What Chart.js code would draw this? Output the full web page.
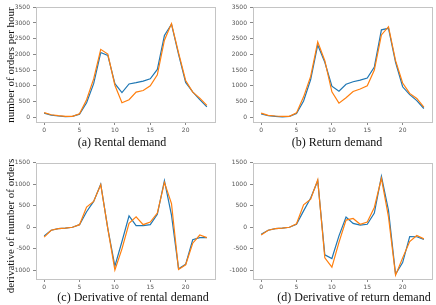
<!DOCTYPE html>
<html>
<head>
<meta charset="utf-8">
<script src="https://cdn.jsdelivr.net/npm/chart.js"></script>
<style>
  body { margin: 0; background: #fff; width: 436px; height: 305px; position: relative; overflow: hidden; }
  .box { position: absolute; }
  .cap { position: absolute; font-family: "Liberation Serif", serif; font-size: 12px; color: #111; white-space: nowrap; transform: translate(-50%, -50%); }
  .ylab { position: absolute; font-family: "Liberation Serif", serif; font-size: 11px; color: #111; white-space: nowrap; transform: translate(-50%, -50%) rotate(-90deg); }
</style>
</head>
<body>

<div class="box" style="left:14px;top:0;width:204px;height:135px"><canvas id="ca"></canvas></div>
<div class="box" style="left:229px;top:0;width:206px;height:135px"><canvas id="cb"></canvas></div>
<div class="box" style="left:14px;top:156px;width:204px;height:136px"><canvas id="cc"></canvas></div>
<div class="box" style="left:229px;top:156px;width:206px;height:136px"><canvas id="cd"></canvas></div>

<div class="ylab" style="left:10px;top:65px">number of orders per hour</div>
<div class="ylab" style="left:10px;top:226px">derivative of number of orders</div>

<div class="cap" style="left:122px;top:142px">(a) Rental demand</div>
<div class="cap" style="left:337px;top:142px">(b) Return demand</div>
<div class="cap" style="left:133px;top:297px">(c) Derivative of rental demand</div>
<div class="cap" style="left:354px;top:297px">(d) Derivative of return demand</div>

<script>
// hours of the day
const hours = [0,1,2,3,4,5,6,7,8,9,10,11,12,13,14,15,16,17,18,19,20,21,22,23];

// tick labels
const xTicks = [0,5,10,15,20];
const demandTicks = [0,500,1000,1500,2000,2500,3000,3500];
const derivTicks = [-1000,-500,0,500,1000,1500];

// (a) rental demand
const rentalBlue   = [130,70,40,20,30,100,460,1070,2060,1970,1070,785,1060,1100,1150,1225,1520,2600,2960,2000,1110,810,560,330];
const rentalOrange = [150,80,50,30,30,110,560,1220,2160,2010,1020,460,560,800,850,1000,1350,2450,2980,2050,1170,800,610,380];

// (b) return demand
const returnBlue   = [110,50,30,10,30,120,520,1200,2300,1750,990,830,1050,1130,1180,1250,1600,2780,2830,1750,970,720,530,280];
const returnOrange = [130,60,40,30,30,140,650,1300,2400,1800,810,450,620,820,900,1000,1500,2620,2880,1800,1090,760,600,320];

// (c) derivative of rental demand
const dRentalBlue   = [-200,-70,-30,-20,0,60,360,600,1000,-30,-900,-330,265,40,40,60,300,1080,280,-960,-860,-290,-240,-240];
const dRentalOrange = [-230,-70,-30,-20,0,60,470,600,990,-30,-990,-500,90,240,60,120,330,1040,550,-980,-870,-370,-180,-240];

// (d) derivative of return demand
const dReturnBlue   = [-160,-70,-30,-20,0,70,380,680,1080,-640,-725,-200,235,90,50,70,330,1180,390,-1090,-820,-215,-220,-280];
const dReturnOrange = [-180,-70,-30,-20,0,80,520,650,1100,-710,-925,-350,166,204,70,120,460,1135,240,-1110,-710,-330,-190,-270];

const BLUE = '#1f77b4';
const ORANGE = '#ff7f0e';

// draws the four spines like matplotlib
const frame = {
  id: 'frame',
  afterDraw(chart) {
    const a = chart.chartArea, ctx = chart.ctx;
    ctx.save();
    ctx.strokeStyle = '#c4c4c4';
    ctx.lineWidth = 1;
    ctx.strokeRect(Math.round(a.left) + 0.5, Math.round(a.top) + 0.5, Math.round(a.right - a.left), Math.round(a.bottom - a.top));
    ctx.restore();
  }
};

function pts(vals) {
  return hours.map((h, i) => ({x: h, y: vals[i]}));
}

function makeChart(id, blue, orange, yMin, yMax, yTicks, yWidth, padTop) {
  new Chart(document.getElementById(id), {
    type: 'line',
    data: {
      datasets: [
        {data: pts(blue), borderColor: BLUE, borderWidth: 1.2, pointRadius: 0, tension: 0, fill: false, order: 1},
        {data: pts(orange), borderColor: ORANGE, borderWidth: 1.2, pointRadius: 0, tension: 0, fill: false, order: 0}
      ]
    },
    options: {
      responsive: true,
      maintainAspectRatio: false,
      animation: false,
      devicePixelRatio: 1,
      layout: {padding: {top: padTop, right: 3, left: 0, bottom: 0}},
      plugins: {legend: {display: false}, tooltip: {enabled: false}},
      scales: {
        x: {
          type: 'linear', min: -1.15, max: 24.15,
          afterBuildTicks(s) { s.ticks = xTicks.map(v => ({value: v})); },
          ticks: {color: '#555', font: {size: 6, family: 'DejaVu Sans'}, padding: 2, maxRotation: 0, autoSkip: false,
                  callback: v => String(v)},
          grid: {drawOnChartArea: false, drawTicks: true, tickLength: 3, color: '#888'},
          border: {display: false},
          afterFit(s) { s.height = 13; }
        },
        y: {
          min: yMin, max: yMax,
          afterBuildTicks(s) { s.ticks = yTicks.map(v => ({value: v})); },
          ticks: {color: '#555', font: {size: 6, family: 'DejaVu Sans'}, padding: 3, autoSkip: false,
                  callback: v => String(v)},
          grid: {drawOnChartArea: false, drawTicks: true, tickLength: 3, color: '#888'},
          border: {display: false},
          afterFit(s) { s.width = yWidth; }
        }
      }
    },
    plugins: [frame]
  });
}

makeChart('ca', rentalBlue, rentalOrange, -150, 3520, demandTicks, 22, 3);
makeChart('cb', returnBlue, returnOrange, -150, 3520, demandTicks, 24, 3);
makeChart('cc', dRentalBlue, dRentalOrange, -1200, 1500, derivTicks, 22, 4);
makeChart('cd', dReturnBlue, dReturnOrange, -1200, 1500, derivTicks, 24, 4);
</script>
</body>
</html>
